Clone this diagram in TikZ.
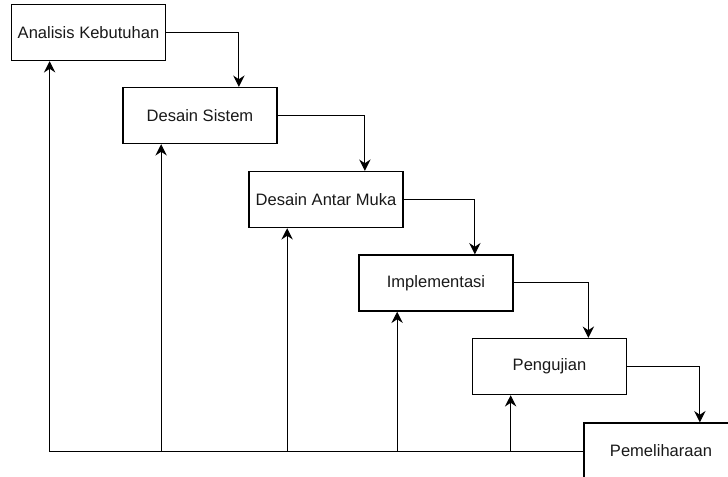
\documentclass[tikz,border=0pt]{standalone}
\usepackage{fontspec}
\setmainfont{Liberation Sans}
\usepackage{tikz}
\usetikzlibrary{arrows.meta,calc}

\tikzset{
	phase/.style={draw, line width=1pt, fill=white, minimum width=115.5pt, minimum height=42pt, inner sep=0pt, font=\fontsize{12.4pt}{14pt}\selectfont, text=black!90},
	flow/.style={line width=0.75pt, -{Stealth[length=8.5pt, width=8.5pt, inset=2.8pt]}}
}

\begin{document}
\begin{tikzpicture}[x=0.75pt, y=-0.75pt]
	\clip (0,0) rectangle (728,477);
	% tahapan
	\node[phase] (analisis) at (88.5, 32.5) {Analisis Kebutuhan};
	\node[phase] (desain) at (200, 115.5) {Desain Sistem};
	\node[phase] (antarmuka) at (326, 199.5) {Desain Antar Muka};
	\node[phase] (implementasi) at (436, 283) {Implementasi};
	\node[phase] (pengujian) at (549.5, 366.5) {Pengujian};
	\node[phase] (pemeliharaan) at (661, 451) {Pemeliharaan};
	% titik masuk dari atas
	\coordinate (desainin) at ($(desain.north west)!.75!(desain.north east)$);
	\coordinate (antarmukain) at ($(antarmuka.north west)!.75!(antarmuka.north east)$);
	\coordinate (implementasiin) at ($(implementasi.north west)!.75!(implementasi.north east)$);
	\coordinate (pengujianin) at ($(pengujian.north west)!.75!(pengujian.north east)$);
	\coordinate (pemeliharaanin) at ($(pemeliharaan.north west)!.75!(pemeliharaan.north east)$);
	% titik balik dari bawah
	\coordinate (analisisback) at ($(analisis.south west)!.25!(analisis.south east)$);
	\coordinate (desainback) at ($(desain.south west)!.25!(desain.south east)$);
	\coordinate (antarmukaback) at ($(antarmuka.south west)!.25!(antarmuka.south east)$);
	\coordinate (implementasiback) at ($(implementasi.south west)!.25!(implementasi.south east)$);
	\coordinate (pengujianback) at ($(pengujian.south west)!.25!(pengujian.south east)$);
	% alur turun
	\draw[flow] (analisis.east) -| (desainin);
	\draw[flow] (desain.east) -| (antarmukain);
	\draw[flow] (antarmuka.east) -| (implementasiin);
	\draw[flow] (implementasi.east) -| (pengujianin);
	\draw[flow] (pengujian.east) -| (pemeliharaanin);
	% alur balik
	\draw[flow] (pemeliharaan.west) -| (analisisback);
	\draw[flow] (desainback |- pemeliharaan.west) -- (desainback);
	\draw[flow] (antarmukaback |- pemeliharaan.west) -- (antarmukaback);
	\draw[flow] (implementasiback |- pemeliharaan.west) -- (implementasiback);
	\draw[flow] (pengujianback |- pemeliharaan.west) -- (pengujianback);
\end{tikzpicture}
\end{document}
